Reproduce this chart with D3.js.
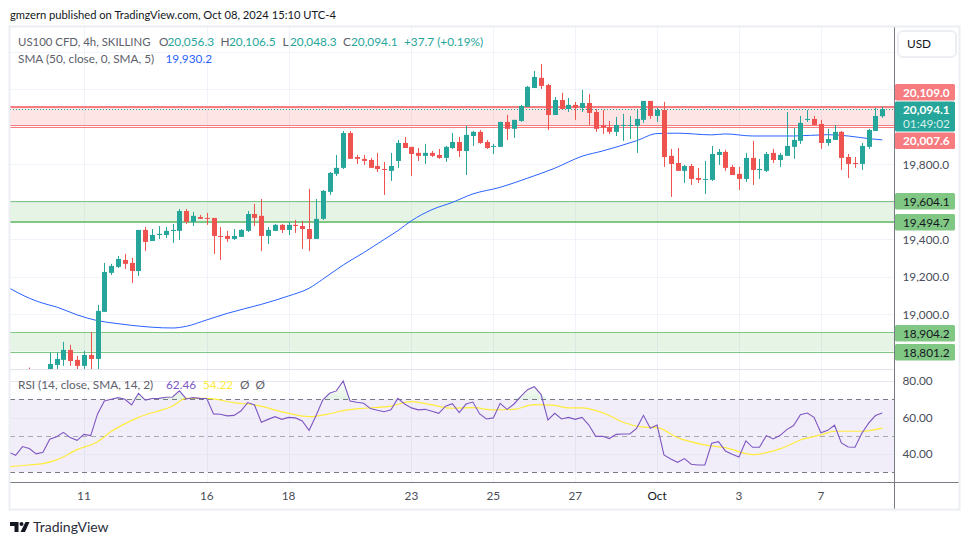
<!DOCTYPE html>
<html>
<head>
<meta charset="utf-8">
<script src="https://cdn.jsdelivr.net/npm/d3@7"></script>
<style>
  html, body { margin: 0; padding: 0; background: #fff; }
  svg { display: block; }
  text { font-family: Lato, "Liberation Sans", Arial, sans-serif; }
</style>
</head>
<body>
<svg id="chart" width="970" height="545"></svg>
<script>
// 4h candles
const opens = [18690,18620,18640,18690,18730,18757,18810,18757,18725,18783,
  18762,19013,19221,19253,19290,19274,19231,19450,19391,19423,
  19423,19445,19445,19551,19493,19519,19514,19514,19418,19418,
  19402,19413,19445,19535,19525,19418,19445,19477,19450,19477,
  19471,19455,19402,19509,19653,19749,19781,19967,19839,19829,
  19823,19791,19775,19765,19818,19914,19893,19861,19845,19861,
  19850,19834,19887,19919,19871,19951,19973,19919,19893,19893,
  20026,19989,20031,20106,20207,20261,20223,20063,20143,20095,
  20117,20101,20127,20079,20008,19999,19973,20005,20005,20005,
  20037,20138,20058,20090,19845,19807,19765,19791,19727,19717,
  19717,19850,19866,19786,19749,19722,19834,19770,19765,19861,
  19823,19845,19893,19925,20037,20042,20015,19914,19930,19973,
  19839,19807,19802,19893,19978,20056.3];
const highs = [18716,18690,18700,18796,18796,18853,18837,18778,18805,18906,
  19050,19274,19269,19311,19322,19301,19450,19466,19455,19471,
  19466,19482,19562,19562,19546,19530,19541,19514,19466,19445,
  19455,19455,19551,19589,19615,19466,19482,19482,19493,19503,
  19498,19669,19615,19663,19759,19850,19978,19978,19850,19850,
  19834,19861,19813,19861,19930,19946,19893,19887,19909,19871,
  19882,19898,19967,19946,20005,19978,19983,19930,19909,20026,
  20063,20037,20117,20218,20298,20335,20229,20159,20181,20154,
  20133,20197,20175,20095,20090,20031,20053,20069,20058,20094,
  20138,20138,20101,20133,19882,19887,19797,19802,19781,19818,
  19898,19882,19877,19797,19786,19861,19925,19829,19866,19882,
  19861,20079,19994,20058,20090,20058,20037,19989,20010,19978,
  19855,19839,19914,19989,20101,20106.5];
const lows = [18640,18600,18620,18670,18680,18725,18725,18690,18690,18680,
  18680,19013,19210,19247,19242,19167,19205,19338,19391,19402,
  19407,19381,19397,19482,19471,19509,19477,19322,19290,19386,
  19397,19413,19439,19471,19338,19375,19445,19434,19423,19434,
  19349,19338,19402,19503,19637,19738,19775,19829,19802,19797,
  19781,19759,19637,19711,19781,19887,19738,19818,19802,19839,
  19829,19813,19882,19839,19743,19898,19909,19882,19855,19893,
  19930,19941,20026,20106,20207,20202,19983,20063,20090,20079,
  20037,20079,20010,19973,19962,19962,19951,19925,19935,19861,
  20021,20042,20026,19786,19626,19765,19701,19690,19701,19642,
  19711,19797,19765,19743,19663,19706,19690,19722,19759,19807,
  19786,19845,19829,19909,20026,20005,19882,19898,19930,19770,
  19727,19781,19770,19882,19978,20048.3];
const closes = [18660,18670,18680,18735,18762,18810,18751,18725,18783,18762,
  19018,19226,19258,19295,19269,19231,19450,19386,19423,19429,
  19445,19450,19551,19493,19525,19509,19509,19418,19413,19402,
  19418,19450,19535,19514,19418,19450,19477,19450,19477,19471,
  19455,19402,19509,19658,19754,19781,19967,19829,19829,19818,
  19781,19775,19770,19791,19914,19887,19855,19845,19861,19845,
  19834,19893,19919,19871,19957,19973,19914,19887,19898,20026,
  19989,20037,20111,20213,20266,20218,20063,20143,20095,20117,
  20101,20127,20074,19989,19996,19973,20010,20010,20010,20042,
  20138,20058,20090,19839,19802,19765,19791,19722,19717,19722,
  19855,19866,19781,19743,19722,19834,19770,19775,19855,19823,
  19850,19898,19930,20021,20042,20010,19914,19935,19973,19834,
  19802,19802,19898,19983,20058,20094.1];

// SMA 50 sampled along the curve, keyed by candle number
const smaBars = [-3,0,2,4,7,10,13,15,21,23,26,29,34,38,41,43,46,49,52,54,56,59,62,65,69,73,77,81,84,89,92,95,100,102,106,112,117,120,123,125];
const smaValues = [19141,19086,19059,19039,18997,18966,18950,18941,18927,18936,18970,19005,19053,19098,19139,19187,19263,19329,19399,19446,19499,19558,19597,19642,19677,19726,19779,19843,19871,19926,19964,19966,19957,19962,19951,19951,19958,19951,19937,19930.2];

// RSI, one value per candle starting three candles left of the first one above
const rsiFirstBar = -3;
const rsiValues = [41.0,39.3,44.1,43.0,40.1,41.0,48.1,49.5,51.9,49.0,47.5,50.8,50.1,62.0,69.1,70.0,70.9,70.0,66.9,73.3,
  69.6,70.4,70.5,71.1,71.3,74.6,70.2,70.9,70.5,70.4,62.0,61.8,60.9,61.2,63.6,68.2,66.9,57.4,59.0,60.5,
  59.0,60.1,59.8,58.1,53.0,60.9,69.6,73.3,74.6,80.0,69.1,68.4,67.8,64.9,64.0,63.2,64.3,70.5,67.4,65.3,
  64.2,64.5,63.4,62.3,66.2,67.6,62.7,67.4,68.5,62.0,59.2,59.8,67.8,64.5,67.3,71.5,75.3,76.9,72.6,58.7,
  62.3,59.2,60.1,59.0,60.1,55.9,49.7,49.7,48.5,50.8,51.0,51.0,54.1,61.2,54.1,55.9,39.5,37.3,35.5,37.5,
  34.4,34.0,34.0,45.9,46.8,41.7,39.9,38.4,47.2,43.7,43.7,50.1,48.3,50.1,53.4,55.6,61.6,62.5,60.1,51.7,
  53.0,55.8,46.1,43.9,43.7,51.4,56.9,61.1,62.46];

const rsiSmaBars = [-3,0,2,4,7,10,12,16,21,23,26,30,33,38,41,44,46,49,53,56,59,62,65,68,71,74,77,79,81,85,87,90,92,95,99,102,106,110,113,116,118,122,125];
const rsiSmaValues = [33.1,34.0,34.8,36.8,42.4,46.8,52.3,60.1,66.3,70.5,70.5,68.2,66.9,62.3,60.5,62.1,63.8,65.1,66.3,68.7,66.9,65.1,65.4,64.2,64.5,67.1,66.7,65.3,65.3,61.1,57.4,54.8,54.5,49.0,45.0,43.5,39.7,42.8,47.7,50.5,52.5,52.5,54.22];

// date ticks
const dayBars = [8,26,38,56,68,80,92,104,116];
const dayLabels = ["11","16","18","23","25","27","Oct","3","7"];

// gridlines run at every 200, the ones under a price tag have no label of their own
const priceGrid = [18800,19000,19200,19400,19600,19800,20000,20200,20400];
const priceTicks = [19000,19200,19400,19800];
const rsiTicks = [40,60,80];

const zoneTop = 20109.0, zoneBottom = 20007.6, zoneBottomInner = 19997;
const greenTop = 19604.1, greenBottom = 19494.7;
const green2Top = 18904.2, green2Bottom = 18801.2;
const lastPrice = 20094.1;

const UP = "#26a69a", DOWN = "#ef5350", RED_ZONE = "#f77c80", GREEN_ZONE = "#81c784";
const GRID = "#f0f3fa", FRAME = "#eceef3", AXIS = "#787b86", TXT = "#4a4e59";
const FONT_SIZE = 11.8;

const left = 10, right = 894.5, mainTop = 27, mainBottom = 369.5, rsiBottom = 482.5;

const svg = d3.select("#chart");
const x = d3.scaleLinear().domain([0, 125]).range([29.3, 882.3]);
const y = d3.scaleLinear().domain([19000, 20000]).range([314.3, 126.8]);
const yRsi = d3.scaleLinear().domain([30, 70]).range([472.3, 399.3]);

const defs = svg.append("defs");
defs.append("clipPath").attr("id", "mainClip").append("rect")
  .attr("x", left).attr("y", mainTop).attr("width", right - left).attr("height", mainBottom - mainTop);
defs.append("clipPath").attr("id", "rsiClip").append("rect")
  .attr("x", left).attr("y", mainBottom).attr("width", right - left).attr("height", rsiBottom - mainBottom);

// grid
const grid = svg.append("g");
grid.selectAll(".v").data(dayBars).enter().append("line")
  .attr("x1", d => Math.round(x(d)) + 0.5).attr("x2", d => Math.round(x(d)) + 0.5)
  .attr("y1", mainTop).attr("y2", rsiBottom)
  .attr("stroke", GRID).attr("stroke-width", 1);
grid.selectAll(".h").data(priceGrid).enter().append("line")
  .attr("x1", left).attr("x2", right)
  .attr("y1", d => Math.round(y(d)) + 0.5).attr("y2", d => Math.round(y(d)) + 0.5)
  .attr("stroke", GRID);

// zones
const main = svg.append("g").attr("clip-path", "url(#mainClip)");
function zone(top, bottom, color) {
  main.append("rect")
    .attr("x", left).attr("width", right - left)
    .attr("y", y(top)).attr("height", y(bottom) - y(top))
    .attr("fill", color).attr("fill-opacity", 0.2);
}
function level(value, color, w) {
  // 1px lines sit on a pixel, 2px lines between two
  const py = w === 2 ? Math.round(y(value) + 0.5) : Math.round(y(value)) + 0.5;
  main.append("line").attr("x1", left).attr("x2", right)
    .attr("y1", py).attr("y2", py)
    .attr("stroke", color).attr("stroke-width", w);
}
zone(zoneTop, zoneBottom, RED_ZONE);
level(zoneTop, RED_ZONE, 2);
level(zoneBottom, RED_ZONE, 1);
level(zoneBottomInner, RED_ZONE, 1);
zone(greenTop, greenBottom, GREEN_ZONE);
level(greenTop, GREEN_ZONE, 1);
level(greenBottom, GREEN_ZONE, 2);
zone(green2Top, green2Bottom, GREEN_ZONE);
level(green2Top, GREEN_ZONE, 1);
level(green2Bottom, GREEN_ZONE, 1);

// SMA line sits under the candles
const smaLine = d3.line().x(d => x(d[0])).y(d => y(d[1])).curve(d3.curveMonotoneX);
main.append("path").datum(smaBars.map((b, i) => [b, smaValues[i]]))
  .attr("d", smaLine).attr("fill", "none").attr("stroke", "#2962ff").attr("stroke-width", 1);

// candles
const bars = opens.map((o, i) => ({ i, o, h: highs[i], l: lows[i], c: closes[i] }));
const candle = main.selectAll(".candle").data(bars).enter().append("g");
candle.append("line")
  .attr("x1", d => Math.round(x(d.i)) + 0.5).attr("x2", d => Math.round(x(d.i)) + 0.5)
  .attr("y1", d => y(d.h)).attr("y2", d => y(d.l))
  .attr("stroke", d => d.c >= d.o ? UP : DOWN);
candle.append("rect")
  .attr("x", d => Math.round(x(d.i)) - 2).attr("width", 5)
  .attr("y", d => y(Math.max(d.o, d.c)))
  .attr("height", d => Math.max(1, Math.abs(y(d.o) - y(d.c))))
  .attr("fill", d => d.c >= d.o ? UP : DOWN);

// last price dotted line
main.append("line").attr("x1", left).attr("x2", right)
  .attr("y1", Math.round(y(lastPrice)) + 0.5).attr("y2", Math.round(y(lastPrice)) + 0.5)
  .attr("stroke", UP).attr("stroke-dasharray", "1 2");

// RSI pane
const rsi = svg.append("g").attr("clip-path", "url(#rsiClip)");
rsi.append("rect").attr("x", left).attr("width", right - left)
  .attr("y", yRsi(70)).attr("height", yRsi(30) - yRsi(70))
  .attr("fill", "#7e57c2").attr("fill-opacity", 0.1);
rsi.selectAll(".rg").data(rsiTicks).enter().append("line")
  .attr("x1", left).attr("x2", right)
  .attr("y1", d => Math.round(yRsi(d)) + 0.5).attr("y2", d => Math.round(yRsi(d)) + 0.5)
  .attr("stroke", "#e9e6f3");
rsi.selectAll(".rb").data([70, 50, 30]).enter().append("line")
  .attr("x1", left).attr("x2", right)
  .attr("y1", d => Math.round(yRsi(d)) + 0.5).attr("y2", d => Math.round(yRsi(d)) + 0.5)
  .attr("stroke", d => d === 50 ? "#a8a8b0" : AXIS)
  .attr("stroke-dasharray", "5 4");

const rsiPts = rsiValues.map((v, i) => [rsiFirstBar + i, v]);
// faint green where RSI goes over 70
const grad = defs.append("linearGradient").attr("id", "overGrad").attr("x1", 0).attr("x2", 0).attr("y1", 0).attr("y2", 1);
grad.append("stop").attr("offset", "0%").attr("stop-color", "#4caf50").attr("stop-opacity", 0);
grad.append("stop").attr("offset", "100%").attr("stop-color", "#4caf50").attr("stop-opacity", 0.16);
rsi.append("path").datum(rsiPts)
  .attr("d", d3.area().x(d => x(d[0])).y0(yRsi(70)).y1(d => yRsi(Math.max(d[1], 70))))
  .attr("fill", "url(#overGrad)");

const rsiSmaLine = d3.line().x(d => x(d[0])).y(d => yRsi(d[1])).curve(d3.curveMonotoneX);
rsi.append("path").datum(rsiSmaBars.map((b, i) => [b, rsiSmaValues[i]]))
  .attr("d", rsiSmaLine).attr("fill", "none").attr("stroke", "#ffeb3b").attr("stroke-width", 1.2);
rsi.append("path").datum(rsiPts)
  .attr("d", d3.line().x(d => x(d[0])).y(d => yRsi(d[1])))
  .attr("fill", "none").attr("stroke", "#7e57c2").attr("stroke-width", 1.1);

// frame and dividers
svg.append("line").attr("x1", left).attr("x2", right).attr("y1", mainBottom).attr("y2", mainBottom).attr("stroke", "#e0e3eb");
svg.append("line").attr("x1", left).attr("x2", 960).attr("y1", rsiBottom).attr("y2", rsiBottom).attr("stroke", AXIS);
svg.append("line").attr("x1", right).attr("x2", right).attr("y1", mainTop).attr("y2", 509).attr("stroke", AXIS);
svg.append("rect").attr("x", 9.5).attr("y", 26.5).attr("width", 950).attr("height", 483)
  .attr("fill", "none").attr("stroke", FRAME).attr("stroke-width", 2);

// price axis
const priceAxis = d3.axisRight(y).tickValues(priceTicks).tickSize(0).tickPadding(8).tickFormat(d3.format(",.1f"));
const pa = svg.append("g").attr("transform", `translate(${right},0)`).call(priceAxis);
pa.select(".domain").remove();
pa.selectAll("text").attr("fill", TXT).attr("font-size", FONT_SIZE).attr("font-family", "Lato");

const rsiAxis = d3.axisRight(yRsi).tickValues(rsiTicks).tickSize(0).tickPadding(8).tickFormat(d3.format(".2f"));
const ra = svg.append("g").attr("transform", `translate(${right},0)`).call(rsiAxis);
ra.select(".domain").remove();
ra.selectAll("text").attr("fill", TXT).attr("font-size", FONT_SIZE).attr("font-family", "Lato");

// time axis
svg.selectAll(".day").data(dayBars).enter().append("text")
  .attr("x", d => x(d)).attr("y", 499.5)
  .attr("text-anchor", "middle").attr("font-size", FONT_SIZE)
  .attr("fill", (d, i) => dayLabels[i] === "Oct" ? "#131722" : TXT)
  .text((d, i) => dayLabels[i]);

// USD button
svg.append("rect").attr("x", 898).attr("y", 31).attr("width", 58).attr("height", 26).attr("rx", 5)
  .attr("fill", "#fff").attr("stroke", FRAME).attr("stroke-width", 2);
svg.append("text").attr("x", 907).attr("y", 48).attr("font-size", FONT_SIZE).attr("fill", "#131722").text("USD");

// price tags
const tags = [
  { label: "20,109.0", top: 84, h: 16.5, bg: RED_ZONE, fg: "#fff" },
  { label: "20,007.6", top: 132.5, h: 16.5, bg: RED_ZONE, fg: "#fff" },
  { label: "19,604.1", top: 193, h: 16.5, bg: GREEN_ZONE, fg: "#131722" },
  { label: "19,494.7", top: 214, h: 16.5, bg: GREEN_ZONE, fg: "#131722" },
  { label: "18,904.2", top: 325, h: 16.5, bg: GREEN_ZONE, fg: "#131722" },
  { label: "18,801.2", top: 344, h: 16.5, bg: GREEN_ZONE, fg: "#131722" },
];
const tag = svg.selectAll(".tag").data(tags).enter().append("g");
tag.append("rect").attr("x", 895).attr("y", d => d.top).attr("width", 60).attr("height", d => d.h)
  .attr("rx", 1.5).attr("fill", d => d.bg);
tag.append("text").attr("x", 903).attr("y", d => d.top + 12.8).attr("font-size", FONT_SIZE)
  .attr("font-weight", d => d.fg === "#fff" ? "bold" : "normal")
  .attr("fill", d => d.fg).text(d => d.label);

svg.append("rect").attr("x", 895).attr("y", 101.5).attr("width", 60).attr("height", 30).attr("rx", 1.5).attr("fill", UP);
svg.append("text").attr("x", 903).attr("y", 113.5).attr("font-size", FONT_SIZE).attr("font-weight", "bold").attr("fill", "#fff").text("20,094.1");
svg.append("text").attr("x", 903).attr("y", 127.5).attr("font-size", FONT_SIZE).attr("fill", "#d3eeeb").text("01:49:02");

// header and legends
svg.append("text").attr("x", 10).attr("y", 19).attr("font-size", 11.2).attr("fill", "#131722")
  .text("gmzern published on TradingView.com, Oct 08, 2024 15:10 UTC-4");

function legend(yPos, parts) {
  parts.forEach(p => {
    svg.append("text").attr("x", p.x).attr("y", yPos).attr("font-size", p.size || FONT_SIZE)
      .attr("fill", p.color).text(p.text);
  });
}
const LEG = "#5d606b";
legend(46, [
  { x: 18, text: "US100 CFD, 4h, SKILLING", color: LEG, size: 11.4 },
  { x: 159, text: "O", color: LEG }, { x: 167.5, text: "20,056.3", color: UP },
  { x: 220.5, text: "H", color: LEG }, { x: 229, text: "20,106.5", color: UP },
  { x: 282.5, text: "L", color: LEG }, { x: 290, text: "20,048.3", color: UP },
  { x: 343, text: "C", color: LEG }, { x: 351, text: "20,094.1", color: UP },
  { x: 404, text: "+37.7 (+0.19%)", color: UP },
]);
legend(63, [
  { x: 18, text: "SMA (50, close, 0, SMA, 5)", color: LEG },
  { x: 165.5, text: "19,930.2", color: "#2962ff" },
]);
legend(389, [
  { x: 18, text: "RSI (14, close, SMA, 14, 2)", color: LEG },
  { x: 166, text: "62.46", color: "#7e57c2" },
  { x: 203, text: "54.22", color: "#ffeb3b" },
  { x: 240, text: "Ø", color: LEG },
  { x: 255.5, text: "Ø", color: LEG },
]);

// footer logo
const logo = svg.append("g").attr("transform", "translate(10,522)").attr("fill", "#131722");
logo.append("path").attr("d", "M0 0H8.5V10H4.5V4H0Z");
logo.append("circle").attr("cx", 11.5).attr("cy", 2).attr("r", 2);
logo.append("path").attr("d", "M15.5 0H19.5L15 10H10.5Z");
svg.append("text").attr("x", 33).attr("y", 532).attr("font-size", 14).attr("fill", "#2a2e39").text("TradingView");
</script>
</body>
</html>
